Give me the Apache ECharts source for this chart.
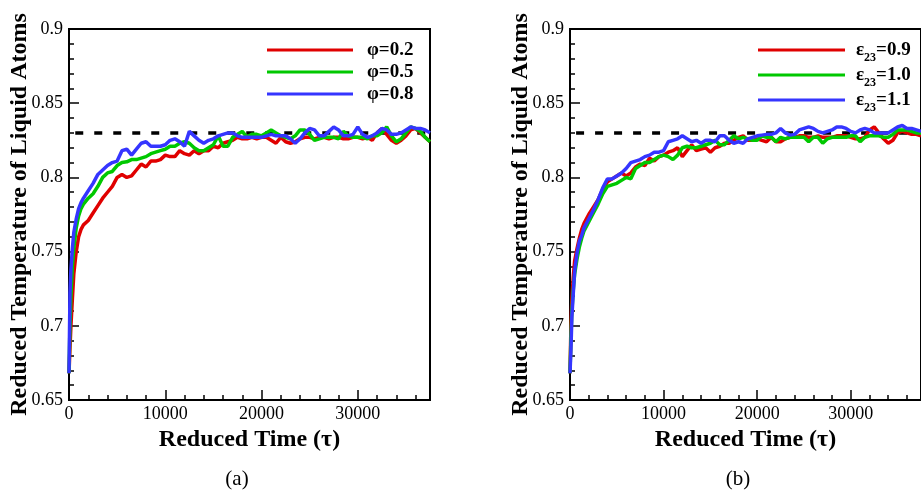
<!DOCTYPE html>
<html><head><meta charset="utf-8">
<script src="https://cdn.jsdelivr.net/npm/echarts@6/dist/echarts.min.js"></script>
<style>html,body{margin:0;padding:0;background:#fff}#c{width:921px;height:493px}</style>
</head><body><div id="c"></div>
<script>
// ---- data ----
const times = [0,100,200,350,500,750,1000,1250,1500,
2000,2500,3000,3500,4000,4500,5000,5500,6000,6500,
7000,7500,8000,8500,9000,9500,10000,10500,11000,11500,
12000,12500,13000,13500,14000,14500,15000,15500,16000,16500,
17000,17500,18000,18500,19000,19500,20000,20500,21000,21500,
22000,22500,23000,23500,24000,24500,25000,25500,26000,26500,
27000,27500,28000,28500,29000,29500,30000,30500,31000,31500,
32000,32500,33000,33500,34000,34500,35000,35500,36000,36500,
37000,37500];

const phi02 = [0.668,0.685,0.700,0.718,0.735,0.750,0.760,0.765,0.768,
0.771,0.776,0.781,0.786,0.790,0.794,0.800,0.802,0.800,0.801,
0.805,0.809,0.807,0.811,0.811,0.812,0.815,0.814,0.814,0.818,
0.816,0.815,0.818,0.816,0.818,0.818,0.821,0.820,0.823,0.824,
0.825,0.827,0.826,0.826,0.827,0.826,0.827,0.827,0.825,0.823,
0.827,0.824,0.823,0.824,0.826,0.827,0.827,0.826,0.827,0.827,
0.826,0.827,0.827,0.826,0.826,0.827,0.827,0.826,0.827,0.825,
0.830,0.833,0.829,0.825,0.823,0.825,0.828,0.832,0.833,0.830,
0.827,0.824];

const phi05 = [0.668,0.700,0.720,0.740,0.752,0.766,0.774,0.779,0.782,
0.786,0.789,0.794,0.800,0.803,0.804,0.808,0.810,0.8105,0.812,
0.812,0.813,0.814,0.816,0.817,0.818,0.819,0.821,0.821,0.823,
0.824,0.823,0.820,0.818,0.818,0.820,0.822,0.828,0.821,0.821,
0.827,0.829,0.831,0.827,0.829,0.829,0.828,0.830,0.832,0.830,
0.828,0.827,0.826,0.828,0.832,0.832,0.829,0.825,0.826,0.827,
0.827,0.827,0.826,0.831,0.828,0.827,0.827,0.827,0.826,0.828,
0.828,0.830,0.834,0.828,0.824,0.826,0.830,0.834,0.833,0.831,
0.827,0.824];

const phi08 = [0.668,0.722,0.738,0.752,0.763,0.772,0.779,0.783,0.786,
0.791,0.796,0.802,0.805,0.808,0.810,0.811,0.818,0.819,0.815,
0.819,0.823,0.824,0.821,0.821,0.821,0.822,0.825,0.826,0.824,
0.821,0.831,0.828,0.825,0.823,0.825,0.826,0.828,0.829,0.830,
0.830,0.828,0.827,0.827,0.827,0.827,0.827,0.828,0.829,0.828,
0.828,0.828,0.826,0.823,0.826,0.830,0.833,0.832,0.828,0.828,
0.831,0.834,0.832,0.828,0.828,0.829,0.834,0.829,0.827,0.828,
0.830,0.833,0.832,0.829,0.829,0.830,0.832,0.834,0.833,0.833,
0.832,0.830];

const eps09 = [0.668,0.700,0.718,0.733,0.744,0.752,0.759,0.765,0.769,
0.775,0.780,0.785,0.792,0.797,0.799,0.801,0.803,0.801,0.803,
0.807,0.809,0.808,0.813,0.811,0.814,0.815,0.817,0.818,0.820,
0.814,0.818,0.822,0.818,0.819,0.820,0.817,0.820,0.821,0.823,
0.823,0.825,0.827,0.828,0.825,0.825,0.826,0.825,0.824,0.827,
0.824,0.824,0.826,0.827,0.827,0.828,0.828,0.827,0.827,0.828,
0.827,0.827,0.827,0.828,0.828,0.828,0.827,0.826,0.826,0.827,
0.832,0.834,0.830,0.826,0.823,0.825,0.830,0.831,0.830,0.829,
0.829,0.828];

const eps10 = [0.668,0.692,0.710,0.724,0.735,0.745,0.753,0.759,0.764,
0.770,0.776,0.782,0.789,0.794,0.795,0.796,0.798,0.800,0.799,
0.806,0.808,0.810,0.810,0.812,0.814,0.815,0.814,0.812,0.815,
0.820,0.821,0.820,0.820,0.821,0.822,0.823,0.825,0.822,0.822,
0.825,0.828,0.826,0.827,0.826,0.825,0.825,0.828,0.827,0.827,
0.824,0.827,0.826,0.827,0.827,0.827,0.827,0.824,0.827,0.827,
0.823,0.826,0.827,0.827,0.827,0.827,0.828,0.828,0.824,0.827,
0.828,0.828,0.828,0.827,0.827,0.829,0.832,0.832,0.832,0.831,
0.830,0.830];

const eps11 = [0.668,0.684,0.706,0.722,0.737,0.749,0.757,0.761,0.766,
0.772,0.778,0.785,0.793,0.799,0.799,0.801,0.803,0.806,0.810,
0.811,0.812,0.814,0.815,0.817,0.817,0.818,0.824,0.825,0.826,
0.828,0.826,0.824,0.825,0.823,0.825,0.825,0.824,0.828,0.828,
0.825,0.823,0.824,0.823,0.826,0.827,0.828,0.8285,0.829,0.829,
0.830,0.833,0.830,0.8285,0.829,0.832,0.833,0.834,0.833,0.831,
0.830,0.831,0.832,0.834,0.834,0.833,0.831,0.830,0.832,0.833,
0.832,0.830,0.830,0.830,0.830,0.832,0.834,0.835,0.833,0.833,
0.832,0.831];

const refLevel = 0.83;      // dashed reference temperature
const refStart = 650;
const tMin = 0, tMax = 37500;
const yMin = 0.65, yMax = 0.9;
const leftNames = ['φ=0.2', 'φ=0.5', 'φ=0.8'];
const rightNames = ['e09', 'e10', 'e11'];
const rightLabels = {e09: '0.9', e10: '1.0', e11: '1.1'};
const captions = ['(a)', '(b)'];

// ---- chart ----
const FONT = "'Liberation Serif','Times New Roman',serif";
const colors = ['#e00000', '#00c800', '#3535ff'];
const pair = arr => times.map((t, i) => [t, arr[i]]);

function xAxes(gi) {
  return [{
    gridIndex: gi, type: 'value', min: tMin, max: tMax, interval: 10000, position: 'bottom',
    axisLine: {show: true, onZero: false, lineStyle: {color: '#000', width: 2}},
    axisTick: {show: true, inside: true, length: 10, lineStyle: {color: '#000', width: 1.5}},
    axisLabel: {color: '#000', fontSize: 18, fontFamily: FONT, margin: 5, showMaxLabel: false,
                formatter: v => String(v)},
    splitLine: {show: false},
    name: 'Reduced Time (τ)', nameLocation: 'middle', nameGap: 26,
    nameTextStyle: {color: '#000', fontSize: 24, fontWeight: 'bold', fontFamily: FONT}
  }, {
    gridIndex: gi, type: 'value', min: tMin, max: tMax, interval: 2000, position: 'bottom',
    axisLine: {show: false},
    axisTick: {show: true, inside: true, length: 5, lineStyle: {color: '#000', width: 1.5}},
    axisLabel: {show: false}, splitLine: {show: false}
  }];
}
function yAxis(gi) {
  return {
    gridIndex: gi, type: 'value', min: yMin, max: yMax, interval: 0.05,
    axisLine: {show: true, onZero: false, lineStyle: {color: '#000', width: 2}},
    axisTick: {show: true, inside: true, length: 10, lineStyle: {color: '#000', width: 1.5}},
    minorTick: {show: true, splitNumber: 5, length: 5, lineStyle: {color: '#000', width: 1.5}},
    axisLabel: {color: '#000', fontSize: 18, fontFamily: FONT, margin: 6},
    splitLine: {show: false}, minorSplitLine: {show: false},
    name: 'Reduced Temperature of Liquid Atoms', nameLocation: 'middle', nameGap: 37,
    nameMoveOverlap: false,
    nameTextStyle: {color: '#000', fontSize: 24, fontWeight: 'bold', fontFamily: FONT}
  };
}
function lineSeries(name, arr, color, gi) {
  return {
    name, type: 'line', xAxisIndex: gi * 2, yAxisIndex: gi, data: pair(arr),
    showSymbol: false, symbol: 'none', silent: true, animation: false,
    lineStyle: {color, width: 3.5}, itemStyle: {color}
  };
}
function refSeries(gi) {
  return {
    type: 'line', xAxisIndex: gi * 2, yAxisIndex: gi,
    data: [[refStart, refLevel], [tMax, refLevel]],
    showSymbol: false, symbol: 'none', silent: true, animation: false,
    lineStyle: {color: '#000', width: 3.5, type: [8, 11]}
  };
}

const chart = echarts.init(document.getElementById('c'), null, {renderer: 'canvas'});
chart.setOption({
  backgroundColor: '#fff',
  animation: false,
  grid: [
    {left: 69, top: 29, width: 361, height: 371, show: true, borderColor: '#000', borderWidth: 2, backgroundColor: 'transparent'},
    {left: 570, top: 29, width: 361, height: 371, show: true, borderColor: '#000', borderWidth: 2, backgroundColor: 'transparent'}
  ],
  xAxis: [...xAxes(0), ...xAxes(1)],
  yAxis: [yAxis(0), yAxis(1)],
  legend: [{
    left: 262, top: 34, orient: 'vertical', icon: 'rect', itemWidth: 86, itemHeight: 3, itemGap: 0,
    data: leftNames,
    textStyle: {color: '#000', fontFamily: FONT, fontSize: 19, fontWeight: 'bold', lineHeight: 22, padding: [0, 0, 0, 9]}
  }, {
    left: 753, top: 34, orient: 'vertical', icon: 'rect', itemWidth: 87, itemHeight: 3, itemGap: 0,
    data: rightNames,
    formatter: n => '{e|ε}{s|23}{e|=' + rightLabels[n] + '}',
    textStyle: {
      color: '#000', fontFamily: FONT, fontSize: 19, fontWeight: 'bold', padding: [0, 0, 0, 6],
      rich: {
        e: {color: '#000', fontFamily: FONT, fontSize: 19, fontWeight: 'bold', lineHeight: 22},
        s: {color: '#000', fontFamily: FONT, fontSize: 12, fontWeight: 'bold', lineHeight: 8, verticalAlign: 'top', padding: [13, 0, 0, 0]}
      }
    }
  }],
  graphic: [
    {type: 'text', x: 237, y: 479, style: {text: captions[0], fill: '#000', font: '21px ' + FONT, textAlign: 'center', textVerticalAlign: 'middle'}},
    {type: 'text', x: 738, y: 479, style: {text: captions[1], fill: '#000', font: '21px ' + FONT, textAlign: 'center', textVerticalAlign: 'middle'}}
  ],
  series: [
    refSeries(0),
    lineSeries(leftNames[0], phi02, colors[0], 0),
    lineSeries(leftNames[1], phi05, colors[1], 0),
    lineSeries(leftNames[2], phi08, colors[2], 0),
    refSeries(1),
    lineSeries(rightNames[0], eps09, colors[0], 1),
    lineSeries(rightNames[1], eps10, colors[1], 1),
    lineSeries(rightNames[2], eps11, colors[2], 1)
  ]
});
</script></body></html>
